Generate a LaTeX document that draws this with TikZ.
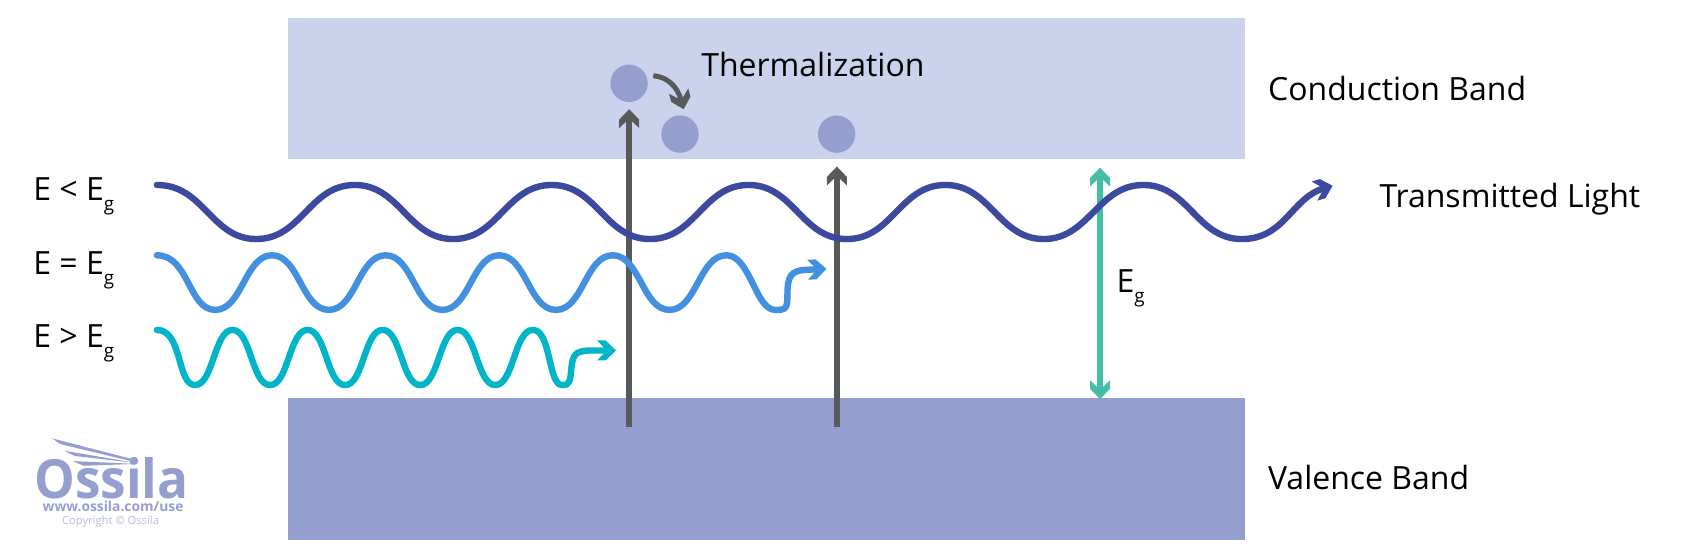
\documentclass[tikz,border=0pt]{standalone}
\usepackage{fontspec}
\setmainfont{Open Sans}
\usetikzlibrary{arrows.meta}
\definecolor{cband}{HTML}{CBD3EC}
\definecolor{vband}{HTML}{959FCF}
\definecolor{greyarrow}{HTML}{58595B}
\definecolor{greenarrow}{HTML}{45BEA6}
\definecolor{waveA}{HTML}{3B4A9F}
\definecolor{waveB}{HTML}{4390E0}
\definecolor{waveC}{HTML}{00B5C8}
\definecolor{logolight}{HTML}{B5BDDD}
\pgfdeclarearrow{
  name=Chev,
  parameters={\the\pgfarrowlength},
  setup code={
    \pgfarrowssettipend{0pt}
    \pgfarrowssetlineend{-.5\pgfarrowlength}
    \pgfarrowssetvisualbackend{-\pgfarrowlength}
    \pgfarrowssetbackend{-\pgfarrowlength}
    \pgfarrowshullpoint{0pt}{0pt}
    \pgfarrowshullpoint{-\pgfarrowlength}{.53\pgfarrowlength}
    \pgfarrowshullpoint{-\pgfarrowlength}{-.53\pgfarrowlength}
    \pgfarrowssavethe\pgfarrowlength
  },
  drawing code={
    \pgfpathmoveto{\pgfpoint{0pt}{0pt}}
    \pgfpathlineto{\pgfpoint{-.55\pgfarrowlength}{.53\pgfarrowlength}}
    \pgfpathlineto{\pgfpoint{-\pgfarrowlength}{.53\pgfarrowlength}}
    \pgfpathlineto{\pgfpoint{-.5\pgfarrowlength}{0pt}}
    \pgfpathlineto{\pgfpoint{-\pgfarrowlength}{-.53\pgfarrowlength}}
    \pgfpathlineto{\pgfpoint{-.55\pgfarrowlength}{-.53\pgfarrowlength}}
    \pgfpathclose
    \pgfusepathqfill
  },
  defaults={length=9.4pt}
}
\newcommand{\subg}{\raisebox{-5pt}{\fontsize{9.4pt}{10pt}\selectfont g}}
\tikzset{
  band/.style={draw=none,minimum width=478.6pt,minimum height=70.85pt,inner sep=0pt,anchor=north west},
  electron/.style={circle,fill=vband,draw=none,minimum size=18.7pt,inner sep=0pt},
  lab/.style={anchor=base west,inner sep=0pt,font=\fontsize{16pt}{18pt}\selectfont,text=black},
  excite/.style={greyarrow,line width=2.8pt,-{Chev}},
  gapline/.style={greenarrow,line width=3pt,{Chev}-{Chev}},
  wave/.style={line width=3.2pt,line cap=round,line join=round,-{Chev[length=9.4pt]}},
}
\begin{document}
\begin{tikzpicture}[x=0.54082pt,y=-0.54082pt]
\useasboundingbox (0,0) rectangle (1568,516);
% bands
\node[band,fill=cband] (cb) at (266,16) {};
\node[band,fill=vband] (vb) at (266,368) {};
% electrons
\node[electron] (e1) at (581.6,77) {};
\node[electron] (e2) at (628.7,124) {};
\node[electron] (e3) at (773.5,124) {};
% end points
\coordinate (g1s) at (581.7,395);
\coordinate (g1e) at (581.7,101);
\coordinate (g2s) at (773.7,395);
\coordinate (g2e) at (773.7,154);
\coordinate (gt) at (1017,155);
\coordinate (gb) at (1017,369);
\coordinate (ths) at (604,70);
\coordinate (the) at (632,101);
\coordinate (w1s) at (145,171);
\coordinate (w2s) at (145,236);
\coordinate (w3s) at (145,305);
\coordinate (w1e) at (1232,171.7);
\coordinate (w2e) at (764,248.5);
\coordinate (w3e) at (569.5,324);
% vertical arrows
\draw[excite] (g1s) -- (g1e);
\draw[excite] (g2s) -- (g2e);
\draw[gapline] (gb) -- (gt);
\draw[greyarrow,line width=2.5pt,-{Chev[length=9.4pt]}] (ths) .. controls (616,71) and (626,79) .. (the);
% wave 1
\draw[wave,waveA] (w1s)
  .. controls +(44,0) and +(-42,0) .. ++(92,50)
  .. controls +(42,0) and +(-42,0) .. ++(91,-50)
  .. controls +(42,0) and +(-42,0) .. ++(91,50)
  .. controls +(42,0) and +(-42,0) .. ++(91,-50)
  .. controls +(42,0) and +(-42,0) .. ++(91,50)
  .. controls +(42,0) and +(-42,0) .. ++(91,-50)
  .. controls +(42,0) and +(-42,0) .. ++(91,50)
  .. controls +(42,0) and +(-42,0) .. ++(91,-50)
  .. controls +(42,0) and +(-42,0) .. ++(91,50)
  .. controls +(42,0) and +(-42,0) .. ++(92,-50)
  .. controls +(42,0) and +(-42,0) .. ++(91,50)
  .. controls +(40,0) and (1194,183) .. (w1e);
% wave 2
\draw[wave,waveB] (w2s)
  .. controls +(30,0) and +(-25,0) .. ++(54,50.5)
  .. controls +(25,0) and +(-25,0) .. ++(52.5,-50.5)
  .. controls +(25,0) and +(-25,0) .. ++(52.5,50.5)
  .. controls +(25,0) and +(-25,0) .. ++(52.5,-50.5)
  .. controls +(25,0) and +(-25,0) .. ++(52.5,50.5)
  .. controls +(25,0) and +(-25,0) .. ++(52.5,-50.5)
  .. controls +(25,0) and +(-25,0) .. ++(52.5,50.5)
  .. controls +(25,0) and +(-25,0) .. ++(52.5,-50.5)
  .. controls +(25,0) and +(-25,0) .. ++(52.5,50.5)
  .. controls +(25,0) and +(-25,0) .. ++(52.5,-50.5)
  .. controls +(22,0) and +(-18,0) .. ++(45,50.5)
  .. controls +(10,0) and (728,286) .. (728,272)
  .. controls (728,256) and (731,250) .. (745,249.5)
  -- (w2e);
% wave 3
\draw[wave,waveC] (w3s)
  .. controls +(24,0) and +(-17,0) .. ++(35.3,51)
  .. controls +(17,0) and +(-17,0) .. ++(34.7,-51)
  .. controls +(17,0) and +(-17,0) .. ++(34.7,51)
  .. controls +(17,0) and +(-17,0) .. ++(34.7,-51)
  .. controls +(17,0) and +(-17,0) .. ++(34.7,51)
  .. controls +(17,0) and +(-17,0) .. ++(34.7,-51)
  .. controls +(17,0) and +(-17,0) .. ++(34.7,51)
  .. controls +(17,0) and +(-17,0) .. ++(34.7,-51)
  .. controls +(17,0) and +(-17,0) .. ++(34.7,51)
  .. controls +(17,0) and +(-17,0) .. ++(34.7,-51)
  .. controls +(17,0) and +(-13,0) .. ++(27,51)
  .. controls +(8,0) and (527,352) .. (528.5,338)
  .. controls (530,328) and (532,324.5) .. (545,324)
  -- (w3e);
% labels
\node[lab] (tth) at (648,71) {Thermalization};
\node[lab] (tcb) at (1172,93) {Conduction Band};
\node[lab] (ttl) at (1275,192) {Transmitted Light};
\node[lab] (tvb) at (1172,453) {Valence Band};
\node[lab] (teg) at (1032,270) {E\subg};
\node[lab] (tl1) at (30.5,185) {E < E\subg};
\node[lab] (tl2) at (30.5,253.6) {E = E\subg};
\node[lab] (tl3) at (30.5,321) {E > E\subg};
% logo
\fill[vband] (48.4,405.3) -- (127.9,425.9) -- (126.3,427.5) -- (55.5,410.5) -- cycle;
\fill[vband] (59.5,416.7) -- (126.3,428.1) -- (69.3,421.6) -- cycle;
\fill[vband] (67.8,426.3) -- (126.3,428.9) -- (77,430.6) -- cycle;
\node[anchor=base west,inner sep=0pt,text depth=0pt,text=vband,font=\fontsize{27pt}{30pt}\selectfont\bfseries] (lg1) at (31.5,460.8) {\scalebox{0.95}[1]{Ossila}};
\node[anchor=base west,inner sep=0pt,text depth=0pt,text height=5pt,text=vband,font=\fontsize{6.9pt}{9pt}\selectfont\bfseries] (lg2) at (39.1,472.5) {www.ossila.com/use};
\node[anchor=base west,inner sep=0pt,text height=4pt,text=logolight,font=\fontsize{5.6pt}{7pt}\selectfont] (lg3) at (57,484.8) {Copyright © Ossila};
\end{tikzpicture}
\end{document}
